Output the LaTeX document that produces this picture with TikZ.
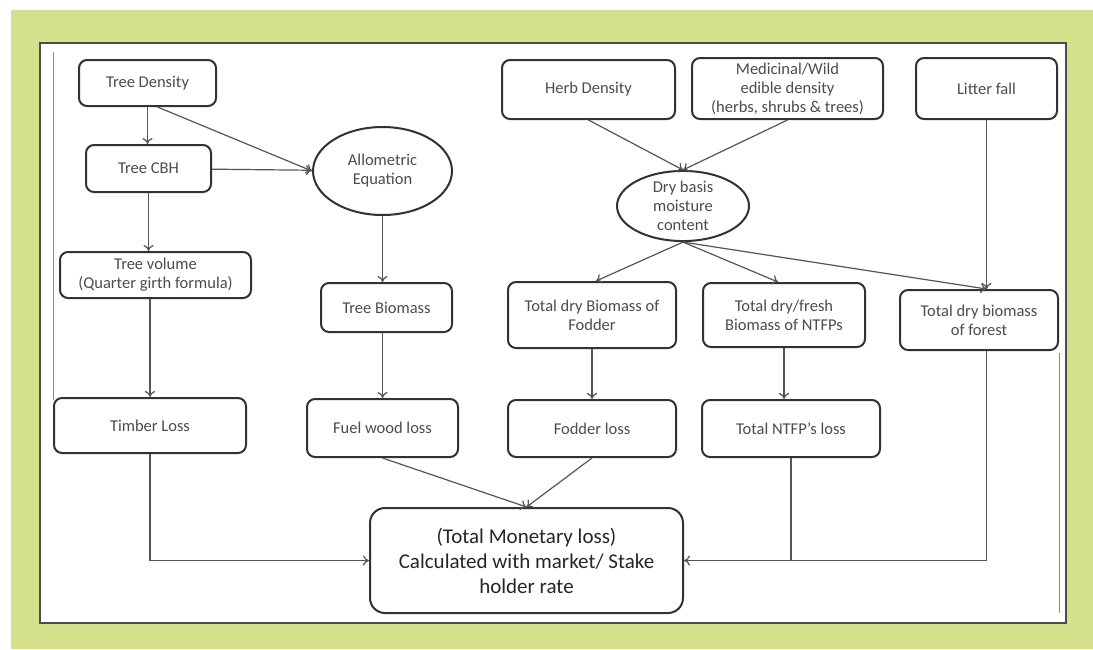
\documentclass[tikz,border=0pt]{standalone}
\usepackage{fontspec}
\setmainfont{Carlito}
\usepackage{tikz}
\usetikzlibrary{arrows.meta,positioning,calc,shapes.geometric}

\definecolor{framegreen}{RGB}{213,224,141}
\definecolor{boxline}{RGB}{50,50,50}
\definecolor{arrowline}{RGB}{85,85,85}

\tikzset{
  box/.style={draw=boxline, line width=2pt, rounded corners=8pt, align=center,
    text=black!70, font=\fontsize{16.5}{19}\selectfont, inner sep=2pt},
  oval/.style={draw=boxline, line width=2pt, ellipse, align=center, inner sep=0pt,
    text=black!70, font=\fontsize{16.5}{19}\selectfont},
  flow/.style={draw=arrowline, line width=1.2pt, -{To[length=6pt,width=10pt]}},
  flat/.style={draw=arrowline, line width=1.2pt}
}

\begin{document}
\begin{tikzpicture}[x=1pt, y=-1pt]
\useasboundingbox (0,0) rectangle (1093,649);
\fill[framegreen] (11,10) rectangle (1093,649);
\filldraw[fill=white, draw=black!70, line width=1.2pt] (40,43) rectangle (1066,623);
\draw[black!45, line width=1pt] (53,52) -- (53,400);
\draw[black!45, line width=1pt] (1059,353) -- (1059,613);

% left column
\node[box,name=dens,minimum width=137pt,minimum height=46pt] at (147.5,83) {Tree Density};
\node[box,name=cbh,minimum width=125pt,minimum height=47pt] at (148.5,168.5) {Tree CBH};
\node[oval,name=allo,minimum width=139pt,minimum height=88pt] at (382.5,171) {Allometric\\Equation};
\node[box,name=vol,minimum width=191pt,minimum height=46pt] at (155.5,275) {Tree volume\\(Quarter girth formula)};
\node[box,name=tbio,minimum width=131pt,minimum height=49pt] at (386.5,307.5) {Tree Biomass};

% right part
\node[box,name=herb,minimum width=173pt,minimum height=59pt] at (588.5,89.5) {Herb Density};
\node[box,name=medi,minimum width=191pt,minimum height=61pt] at (787.5,88.5) {Medicinal/Wild\\edible density\\(herbs, shrubs \& trees)};
\node[box,name=litt,minimum width=141pt,minimum height=61pt] at (986.5,88.5) {Litter fall};
\node[oval,name=dry,minimum width=132pt,minimum height=64pt] at (683,206) {Dry basis\\moisture\\content};

\node[box,name=fodb,minimum width=168pt,minimum height=66pt] at (592,315) {Total dry Biomass of\\Fodder};
\node[box,name=ntfb,minimum width=162pt,minimum height=64pt] at (784,315) {Total dry/fresh\\Biomass of NTFPs};
\node[box,name=forb,minimum width=158pt,minimum height=60pt] at (979,320) {Total dry biomass\\of forest};

% losses
\node[box,name=timb,minimum width=192pt,minimum height=55pt] at (150,425.5) {Timber Loss};
\node[box,name=fuel,minimum width=151pt,minimum height=58pt] at (382.5,428) {Fuel wood loss};
\node[box,name=fodl,minimum width=168pt,minimum height=57pt] at (592,428.5) {Fodder loss};
\node[box,name=ntfl,minimum width=178pt,minimum height=57pt] at (791,428.5) {Total NTFP's loss};

\node[box,name=mon,minimum width=313pt,minimum height=105pt,rounded corners=15pt,
  text=black!85,font=\fontsize{21}{25}\selectfont] at (526.5,560.5)
  {(Total Monetary loss)\\Calculated with market/ Stake\\holder rate};

\coordinate (join) at (ntfl.south |- mon.east);

\draw[flow] (dens.south) -- (dens.south |- cbh.north);
\draw[flow] ([xshift=10pt]dens.south) -- (allo.west);
\draw[flow] (cbh) -- (allo);
\draw[flow] (cbh.south) -- (cbh.south |- vol.north);
\draw[flow] (timb.north |- vol.south) -- (timb.north);
\draw[flow] (allo.south) -- (allo.south |- tbio.north);
\draw[flow] (fuel.north |- tbio.south) -- (fuel.north);

\draw[flow] (herb.south) -- (dry.north);
\draw[flow] (medi.south) -- (dry.north);
\draw[flow] (dry.south) -- ([xshift=4pt]fodb.north);
\draw[flow] (dry.south) -- ([xshift=-6pt]ntfb.north);
\draw[flow] (dry.south) -- (litt.south |- forb.north);
\draw[flow] (litt.south) -- (litt.south |- forb.north);
\draw[flow] (fodb.south -| fodl.north) -- (fodl.north);
\draw[flow] (ntfb.south) -- (ntfb.south |- ntfl.north);

\draw[flow] (timb.south) |- (mon.west);
\draw[flow] (fuel.south) -- (mon.north);
\draw[flow] (fodl.south) -- (mon.north);
\draw[flow] (ntfl.south) |- (mon.east);
\draw[flat] (forb.south -| litt.south) |- (join);
\end{tikzpicture}
\end{document}
